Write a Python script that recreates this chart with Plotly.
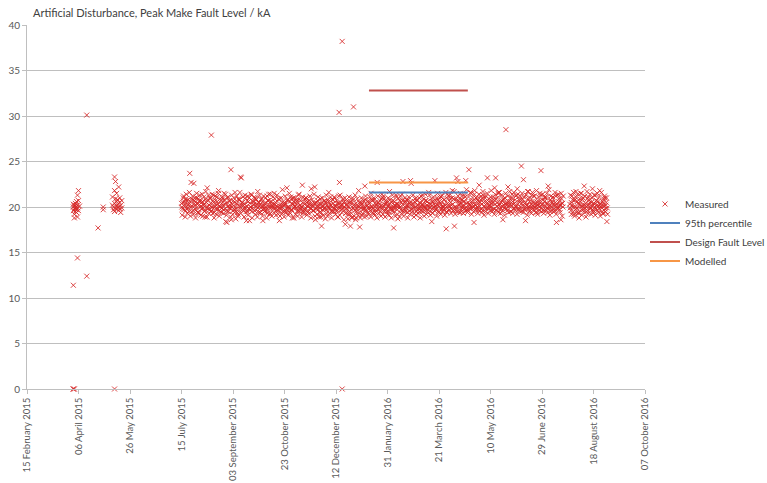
import pandas as pd
import plotly.graph_objects as go

# ---------------- data ----------------
title_text = "Artificial Disturbance, Peak Make Fault Level / kA"

# main run of daily readings (three per day) from 15 July 2015
main_start = "2015-07-15"
main_a = [
    20.4, 19.8, 21.2, 20.1, 19.6, 20.7, 19.9, 20.3, 23.7, 20.0,
    19.5, 20.8, 22.6, 20.2, 19.7, 21.0, 20.4, 19.3, 20.6, 20.1,
    21.4, 19.9, 20.3, 18.9, 20.5, 22.1, 19.8, 20.2, 20.9, 19.6,
    20.0, 21.3, 19.4, 20.7, 20.2, 19.8, 21.8, 20.1, 19.5, 20.4,
    20.9, 19.7, 20.3, 18.4, 18.3, 21.1, 19.9, 20.2, 24.1, 20.0,
    19.6, 20.5, 21.6, 19.8, 20.3, 19.2, 20.8, 20.1, 23.2, 19.7,
    20.2, 19.9, 21.0, 18.5, 19.5, 20.6, 18.5, 20.0, 21.3, 19.8,
    20.3, 19.6, 20.9, 20.1, 21.7, 19.4, 20.2, 19.9, 20.5, 18.5,
    20.1, 19.8, 20.4, 21.2, 19.7, 20.0, 19.3, 20.6, 20.2, 19.9,
    21.5, 20.3, 19.6, 20.0, 19.2, 18.5, 20.1, 19.8, 21.9, 20.2,
    19.5, 20.4, 19.9, 20.8, 20.0, 19.4, 21.1, 19.7, 20.3, 18.8,
    20.1, 19.9, 20.6, 19.6, 21.4, 20.2, 19.8, 20.0, 19.3, 20.5,
    19.7, 21.0, 20.1, 19.5, 20.3, 19.9, 22.0, 20.2, 19.6, 20.4,
    18.6, 19.8, 20.7, 20.0, 19.4, 20.3, 17.9, 19.7, 20.1, 19.9,
    20.5, 19.3, 20.0, 21.6, 19.8, 20.2, 19.5, 20.8, 19.9, 20.1,
    19.6, 20.4, 18.9, 20.0, 21.3, 19.7, 20.2, 19.9, 20.6, 18.1,
    19.8, 20.1, 19.2, 20.5, 17.9, 19.7, 21.0, 19.9, 20.3, 18.6,
    19.5, 20.0, 21.8, 17.8, 20.2, 19.1, 20.4, 19.8, 22.3, 19.7,
    20.1, 19.4, 20.6, 19.9, 21.5, 20.0, 19.3, 20.8, 19.7, 20.2,
    22.7, 19.8, 20.3, 19.5, 20.9, 19.9, 21.2, 20.1, 19.6, 20.4,
    19.2, 20.0, 21.7, 19.8, 20.5, 19.6, 17.7, 20.2, 19.9, 20.3,
    18.7, 20.1, 20.7, 19.7, 21.4, 22.8, 19.5, 20.6, 19.9, 20.2,
    20.8, 19.6, 20.3, 22.6, 19.8, 20.1, 19.3, 20.5, 21.0, 19.7,
    20.0, 19.5, 20.4, 19.9, 21.3, 20.2, 19.6, 20.7, 19.8, 20.1,
    21.6, 19.9, 20.3, 18.4, 20.6, 20.0, 22.9, 19.7, 20.2, 20.8,
    19.5, 20.4, 21.1, 19.8, 20.0, 20.3, 19.9, 17.6, 21.4, 20.1,
    19.7, 20.9, 20.2, 21.8, 19.6, 17.9, 20.0, 23.2, 19.9, 20.7,
    20.3, 19.4, 21.2, 20.1, 20.6, 19.8, 22.9, 20.4, 19.6, 24.1,
    20.2, 21.5, 19.9, 20.7, 18.3, 20.3, 21.0, 20.0, 19.7, 22.4,
    20.5, 19.8, 20.9, 21.3, 20.1, 19.5, 20.6, 23.2, 20.2, 19.9,
    21.1, 20.4, 19.7, 20.8, 22.1, 23.2, 19.6, 20.5, 21.6, 20.3,
    19.9, 20.7, 18.6, 20.2, 21.0, 19.8, 20.4, 22.2, 20.1, 20.6,
    19.5, 21.4, 20.3, 19.9, 20.8, 20.0, 22.0, 19.7, 20.5, 21.2,
    24.5, 19.6, 23.0, 20.4, 18.5, 20.2, 21.7, 19.8, 20.6, 20.0,
    21.3, 19.9, 20.5, 20.0, 20.1, 19.4, 20.7, 20.3, 21.5, 24.0,
    20.2, 20.8, 19.6, 21.1, 20.4, 19.9, 22.3, 20.0, 19.5, 20.6,
    21.0, 20.3, 19.8, 20.5, 18.3, 20.1, 21.4, 19.7, 20.2, 20.9,
    20.4,
]
main_b = [
    20.0, 20.5, 19.7, 20.3, 20.9, 19.8, 20.2, 19.5, 20.6, 22.7,
    20.1, 19.6, 20.4, 21.0, 19.9, 20.3, 19.4, 20.7, 20.0, 19.8,
    20.6, 20.2, 19.5, 20.8, 19.9, 20.1, 21.3, 19.7, 20.4, 20.0,
    19.3, 20.5, 20.1, 19.8, 21.1, 20.3, 19.6, 20.0, 20.7, 19.9,
    20.2, 21.5, 19.8, 20.4, 19.5, 20.1, 20.6, 19.9, 18.6, 20.3,
    20.7, 19.7, 20.0, 20.4, 19.4, 20.9, 19.8, 23.3, 20.2, 20.5,
    19.6, 20.3, 19.9, 20.1, 21.2, 19.8, 20.4, 20.0, 19.5, 20.6,
    20.2, 21.0, 19.7, 20.3, 19.9, 20.5, 19.4, 20.8, 20.1, 19.8,
    20.4, 19.6, 20.0, 19.3, 20.7, 20.2, 21.4, 19.9, 20.1, 20.3,
    19.8, 20.5, 20.1, 19.7, 20.9, 19.9, 20.3, 20.0, 19.5, 20.4,
    20.2, 19.6, 22.1, 20.0, 19.8, 20.6, 19.7, 20.3, 21.0, 19.9,
    20.1, 20.4, 19.5, 20.8, 19.9, 20.2, 20.0, 22.4, 19.6, 20.3,
    19.9, 20.5, 19.4, 20.1, 20.7, 19.8, 20.3, 20.0, 19.6, 22.2,
    20.4, 20.0, 19.7, 20.3, 19.9, 18.9, 20.5, 20.1, 19.8, 20.6,
    19.7, 20.2, 20.8, 19.9, 20.3, 19.5, 20.0, 20.4, 21.1, 19.8,
    20.1, 19.6, 20.4, 22.7, 19.9, 20.2, 19.8, 20.5, 20.0, 19.3,
    20.3, 19.7, 20.0, 19.5, 20.6, 18.8, 19.9, 20.2, 19.6, 20.4,
    19.8, 20.1, 19.4, 20.5, 19.9, 20.3, 19.7, 20.0, 20.8, 19.5,
    20.2, 19.9, 20.4, 19.6, 20.0, 20.7, 19.8, 20.1, 19.4, 20.3,
    19.7, 20.5, 20.0, 19.9, 20.2, 21.0, 19.6, 20.3, 19.8, 20.6,
    20.1, 19.5, 20.4, 20.0, 19.8, 20.7, 19.9, 20.2, 21.3, 19.7,
    20.3, 19.9, 20.0, 20.5, 19.6, 20.2, 19.8, 20.6, 20.1, 19.4,
    20.0, 20.4, 22.9, 19.7, 20.3, 19.9, 20.6, 20.0, 19.5, 20.2,
    19.8, 20.5, 20.1, 19.6, 20.3, 20.0, 19.9, 20.7, 20.2, 19.7,
    20.4, 20.0, 19.5, 20.6, 19.9, 20.3, 20.1, 19.8, 21.0, 20.2,
    20.6, 19.9, 20.3, 20.0, 19.7, 20.8, 20.2, 19.5, 20.4, 21.2,
    20.1, 20.5, 19.8, 20.3, 20.9, 20.0, 19.6, 20.7, 22.8, 20.2,
    20.4, 20.8, 19.9, 20.2, 20.6, 21.1, 20.0, 19.7, 20.5, 20.3,
    19.9, 20.6, 20.3, 20.0, 21.4, 20.2, 19.8, 20.7, 20.4, 20.1,
    20.8, 20.3, 19.6, 20.5, 20.0, 21.2, 20.4, 19.9, 20.6, 20.2,
    20.0, 20.7, 20.4, 19.8, 20.3, 20.9, 20.1, 21.5, 20.2, 19.7,
    20.5, 20.1, 20.8, 19.9, 20.4, 20.2, 19.6, 20.6, 20.3, 21.0,
    20.2, 20.6, 19.8, 20.4, 20.1, 21.3, 20.3, 19.9, 20.7, 20.0,
    20.4, 20.8, 20.1, 19.7, 20.5, 20.2, 20.9, 20.0, 19.6, 20.3,
    20.6, 20.1, 21.2, 20.4, 19.8, 20.5, 20.2, 20.0, 20.7, 19.9,
    20.3, 19.7, 20.6, 20.1, 21.0, 20.4, 19.8, 20.2, 20.8, 20.0,
    20.5, 20.1, 19.6, 21.2, 20.3, 19.9, 20.6, 20.2, 18.6, 20.4,
    20.0,
]
main_c = [
    19.1, 21.0, 20.6, 18.9, 21.4, 19.3, 20.8, 21.6, 19.0, 20.9,
    21.2, 19.2, 20.7, 18.8, 21.5, 19.4, 20.9, 21.3, 19.1, 20.5,
    19.0, 21.1, 19.6, 21.7, 18.9, 20.8, 19.3, 21.0, 19.5, 21.4,
    20.7, 18.8, 21.2, 19.2, 20.6, 21.5, 19.0, 20.9, 19.4, 21.1,
    19.3, 20.8, 21.4, 19.1, 21.0, 19.5, 20.7, 18.9, 21.3, 19.2,
    21.0, 19.4, 18.7, 21.2, 19.0, 20.8, 21.6, 19.3, 20.5, 21.1,
    18.9, 21.3, 19.5, 20.7, 19.1, 21.0, 19.7, 21.4, 18.8, 20.6,
    21.1, 19.2, 20.8, 18.9, 20.5, 21.3, 19.4, 20.9, 19.0, 21.2,
    19.5, 21.0, 18.8, 20.7, 21.4, 19.2, 20.6, 19.0, 21.1, 19.4,
    20.9, 19.1, 21.3, 19.6, 20.8, 19.0, 21.0, 19.3, 20.6, 18.9,
    21.2, 19.4, 20.7, 19.1, 21.5, 19.3, 20.9, 18.8, 20.6, 21.0,
    19.2, 20.8, 19.0, 21.3, 19.5, 20.7, 18.9, 21.1, 19.4, 20.9,
    21.0, 19.1, 20.6, 19.3, 21.2, 18.8, 20.8, 19.6, 21.4, 19.0,
    20.5, 19.2, 21.1, 18.9, 20.9, 19.4, 21.0, 19.1, 20.7, 18.7,
    21.3, 19.0, 20.6, 19.3, 21.1, 18.8, 20.8, 19.5, 21.0, 19.2,
    20.7, 18.9, 21.2, 19.1, 20.5, 19.4, 20.9, 18.6, 21.0, 19.3,
    20.6, 18.7, 21.1, 19.2, 20.4, 18.9, 20.8, 19.0, 21.3, 18.8,
    20.9, 19.1, 20.5, 18.8, 21.0, 19.3, 20.7, 18.9, 21.2, 19.0,
    20.6, 19.2, 21.1, 18.9, 20.8, 19.4, 21.0, 19.1, 20.5, 18.8,
    21.2, 19.3, 20.7, 19.0, 21.4, 19.2, 20.9, 18.9, 20.6, 19.5,
    21.0, 19.1, 20.8, 18.8, 21.3, 19.4, 20.6, 19.0, 21.1, 19.2,
    20.9, 18.9, 21.2, 19.3, 20.7, 19.0, 21.0, 19.5, 20.8, 18.8,
    21.1, 19.2, 20.6, 19.4, 21.3, 18.9, 20.9, 19.1, 20.7, 19.3,
    21.0, 18.8, 21.2, 19.5, 20.8, 19.0, 21.4, 19.2, 20.6, 19.4,
    21.3, 19.1, 20.9, 19.3, 21.1, 19.6, 20.7, 19.0, 21.5, 19.4,
    21.0, 19.2, 21.3, 19.5, 20.8, 19.1, 21.6, 19.4, 20.9, 19.7,
    21.4, 19.3, 21.0, 19.6, 21.7, 19.2, 20.9, 19.5, 21.2, 19.4,
    21.5, 19.7, 20.8, 19.3, 21.3, 19.6, 21.9, 19.4, 21.1, 19.8,
    21.6, 19.2, 21.0, 19.5, 21.8, 19.7, 20.9, 19.3, 21.4, 19.6,
    21.2, 19.4, 21.7, 19.1, 21.0, 19.8, 21.5, 19.3, 20.9, 19.6,
    21.8, 19.5, 21.1, 19.2, 21.4, 19.7, 21.0, 19.4, 21.6, 19.3,
    21.3, 19.6, 20.9, 19.1, 21.5, 19.8, 21.2, 19.4, 21.7, 19.5,
    21.0, 19.3, 21.6, 19.7, 21.2, 19.2, 21.4, 19.6, 20.9, 19.5,
    21.5, 19.4, 21.1, 19.8, 21.3, 19.1, 21.7, 19.5, 21.0, 19.3,
    21.6, 19.7, 21.2, 19.4, 21.8, 19.2, 21.1, 19.6, 21.3, 19.5,
    21.4, 19.3, 21.0, 19.7, 21.5, 19.4, 21.9, 19.1, 21.2, 19.6,
    21.1, 19.5, 21.6, 19.2, 21.3, 19.8, 20.9, 19.4, 21.5, 19.0,
    21.2,
]

# last run of daily readings (three per day) from 26 July 2016
late_start = "2016-07-26"
late_a = [20.3, 19.6, 21.2, 20.0, 19.2, 20.8, 21.7, 19.9, 20.4, 18.8,
          20.6, 21.5, 20.1, 19.7, 22.3, 20.2, 19.5, 20.9, 21.1, 20.0,
          19.8, 20.5, 22.0, 19.4, 20.3, 21.3, 20.7, 19.6, 20.1, 21.8,
          20.4, 19.9, 20.6, 19.3, 21.0, 20.2, 18.4]
late_b = [19.9, 20.5, 20.2, 19.5, 20.7, 20.0, 19.8, 20.6, 19.4, 20.3,
          20.1, 19.7, 20.8, 20.2, 19.9, 20.4, 20.0, 19.6, 20.3, 20.5,
          19.9, 20.1, 19.7, 20.4, 20.0, 19.8, 20.2, 20.6, 19.9, 20.3,
          20.0, 19.5, 20.4, 20.1, 19.8, 20.5, 19.9]
late_c = [21.3, 19.2, 20.8, 21.6, 19.0, 21.1, 19.4, 21.4, 19.3, 20.9,
          21.5, 19.1, 21.0, 19.5, 21.2, 18.9, 21.7, 19.3, 20.8, 21.4,
          19.2, 21.0, 19.6, 21.3, 19.1, 20.7, 21.5, 19.4, 21.1, 19.0,
          21.6, 19.3, 20.9, 21.2, 19.5, 21.0, 19.2]

# individual readings: early spring 2015 clusters and outliers
spot_dates = (
    ["2015-04-01"] * 3 + ["2015-04-02"] * 4 + ["2015-04-03"] * 4 + ["2015-04-04"] * 4
    + ["2015-04-05"] * 4 + ["2015-04-06"] * 3 + ["2015-04-07"]
    + ["2015-04-01", "2015-04-01", "2015-04-02", "2015-04-01", "2015-04-05",
       "2015-04-14", "2015-04-14", "2015-04-25", "2015-04-30", "2015-04-30"]
    + ["2015-05-09"] * 2 + ["2015-05-10"] * 2 + ["2015-05-11"] * 4 + ["2015-05-12"] * 3
    + ["2015-05-13"] * 3 + ["2015-05-14"] * 3 + ["2015-05-15"] * 3 + ["2015-05-16"] * 3
    + ["2015-05-17"] * 2 + ["2015-05-18"] * 2
    + ["2015-05-11", "2015-08-13", "2015-12-15", "2015-12-18", "2015-12-18",
       "2015-12-29", "2016-05-25"]
)
spot_values = (
    [20.0, 19.6, 20.3] + [19.8, 19.2, 20.1, 18.8] + [20.4, 19.5, 19.9, 20.2] + [19.7, 20.0, 19.4, 20.6]
    + [21.3, 19.9, 20.2, 18.9] + [21.8, 20.7, 19.6] + [20.1]
    + [0.0, 0.0, 0.0, 11.4, 14.4, 12.4, 30.1, 17.7, 20.0, 19.7]
    + [21.1, 20.2] + [20.0, 19.7] + [23.3, 20.4, 19.5, 21.8] + [22.8, 20.9, 19.8]
    + [20.6, 21.5, 20.1] + [19.9, 20.3, 20.8] + [22.2, 20.0, 19.6] + [20.5, 19.8, 21.0]
    + [20.2, 19.4] + [20.7, 19.9]
    + [0.0, 27.9, 30.4, 38.2, 0.0, 31.0, 28.5]
)

line_dates = ["2016-01-13", "2016-04-18"]
p95_level = 21.6
design_level = 32.8
modelled_level = 22.7

axis_start = "2015-02-15"
axis_end = "2016-10-07"

# ---------------- build ----------------
main_dates = pd.date_range(main_start, periods=len(main_a), freq="D")
late_dates = pd.date_range(late_start, periods=len(late_a), freq="D")
h8 = pd.Timedelta(hours=8)
h16 = pd.Timedelta(hours=16)

x_meas = (list(pd.to_datetime(spot_dates))
          + list(main_dates) + list(main_dates + h8) + list(main_dates + h16)
          + list(late_dates) + list(late_dates + h8) + list(late_dates + h16))
y_meas = spot_values + main_a + main_b + main_c + late_a + late_b + late_c

FONT = "Lato, 'Open Sans', sans-serif"
TXT = "#595959"
MEAS = "rgba(214,38,38,0.85)"

fig = go.Figure()
fig.add_trace(go.Scatter(
    x=x_meas, y=y_meas, mode="markers", name="Measured",
    marker=dict(symbol="x-thin", size=5, line=dict(width=1, color=MEAS), color=MEAS),
    cliponaxis=False,
))
fig.add_trace(go.Scatter(
    x=line_dates, y=[p95_level, p95_level], mode="lines", name="95th percentile",
    line=dict(color="#4F81BD", width=2),
))
fig.add_trace(go.Scatter(
    x=line_dates, y=[design_level, design_level], mode="lines", name="Design Fault Level",
    line=dict(color="#C0504D", width=2),
))
fig.add_trace(go.Scatter(
    x=line_dates, y=[modelled_level, modelled_level], mode="lines", name="Modelled",
    line=dict(color="#F79646", width=2),
))

fig.update_layout(
    width=767, height=483,
    margin=dict(l=27, r=122, t=25, b=94, autoexpand=False),
    paper_bgcolor="white", plot_bgcolor="white",
    font=dict(family=FONT, size=10, color=TXT),
    title=dict(text=title_text, x=33 / 767, xanchor="left", xref="container",
               y=1 - 13 / 483, yanchor="middle", yref="container",
               font=dict(family=FONT, size=11, color="#404040")),
    legend=dict(x=1.0, xanchor="left", y=0.43, yanchor="middle",
                font=dict(family=FONT, size=10, color="#404040"),
                bgcolor="rgba(0,0,0,0)", itemwidth=30, tracegroupgap=2),
    showlegend=True,
)
fig.update_xaxes(
    type="date", range=[axis_start, axis_end], automargin=False,
    tick0=axis_start, dtick=50 * 86400000, tickformat="%d %B %Y", tickangle=-90,
    showgrid=False, showline=True, linecolor="#BFBFBF", linewidth=1,
    ticks="outside", ticklen=4, tickcolor="#BFBFBF",
    tickfont=dict(family=FONT, size=9.5, color=TXT),
    zeroline=False,
)
fig.update_yaxes(
    range=[0, 40], dtick=5, automargin=False,
    showgrid=True, gridcolor="#BFBFBF", gridwidth=1,
    showline=True, linecolor="#BFBFBF", linewidth=1,
    ticks="outside", ticklen=4, tickcolor="#BFBFBF",
    tickfont=dict(family=FONT, size=10, color=TXT),
    zeroline=False,
)

# the page's default 8px body margin would shift the 767x483 figure; remove it
fig.write_html("out.html",
               config={"displayModeBar": False},
               post_script="document.body.style.margin='0px';document.body.style.overflow='hidden';")
